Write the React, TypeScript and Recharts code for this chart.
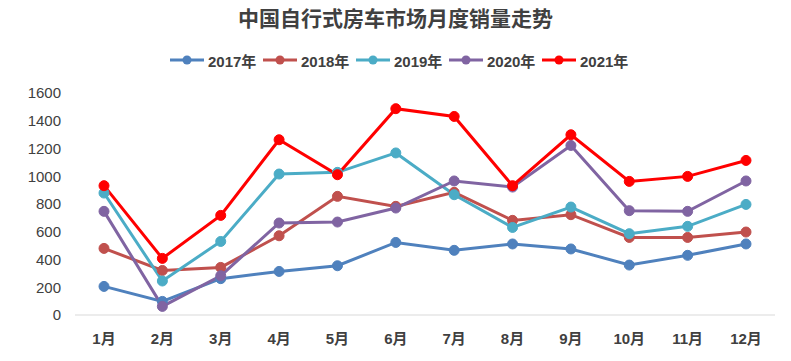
import React from "react";
import { LineChart, Line, XAxis, YAxis } from "recharts";

const months = ["1月", "2月", "3月", "4月", "5月", "6月", "7月", "8月", "9月", "10月", "11月", "12月"];

const sales2017 = [206, 98, 262, 314, 355, 523, 466, 512, 476, 360, 430, 512];
const sales2018 = [480, 321, 343, 571, 855, 783, 884, 682, 723, 559, 559, 598];
const sales2019 = [879, 245, 530, 1016, 1028, 1168, 867, 631, 778, 586, 639, 797];
const sales2020 = [747, 62, 283, 663, 670, 771, 966, 922, 1222, 752, 747, 966];
const sales2021 = [932, 408, 718, 1263, 1011, 1487, 1431, 932, 1299, 963, 999, 1114];

const yTicks = [0, 200, 400, 600, 800, 1000, 1200, 1400, 1600];

const SERIES = [
  { key: "y2017", name: "2017年", color: "#4F81BD", values: sales2017 },
  { key: "y2018", name: "2018年", color: "#C0504D", values: sales2018 },
  { key: "y2019", name: "2019年", color: "#4BACC6", values: sales2019 },
  { key: "y2020", name: "2020年", color: "#8064A2", values: sales2020 },
  { key: "y2021", name: "2021年", color: "#FF0000", values: sales2021 },
];

const data = months.map((m, i) => {
  const row: Record<string, string | number> = { month: m };
  SERIES.forEach((s) => {
    row[s.key] = s.values[i];
  });
  return row;
});

const FONT = "'Liberation Sans', Arial, 'Noto Sans CJK SC', sans-serif";

// legend drawn by hand: line + filled dot, like the Excel legend
const LegendRow = () => (
  <div style={{ position: "absolute", top: 50, left: 0, width: 791, display: "flex", justifyContent: "center", paddingLeft: 12, boxSizing: "border-box" }}>
    {SERIES.map((s) => (
      <div key={s.key} style={{ display: "flex", alignItems: "center", width: 93, height: 20 }}>
        <svg width={36} height={12} style={{ marginRight: 3 }}>
          <line x1={1} y1={6} x2={35} y2={6} stroke={s.color} strokeWidth={3} />
          <circle cx={18} cy={6} r={4.5} fill={s.color} />
        </svg>
        <span style={{ fontFamily: FONT, fontWeight: "bold", fontSize: 15, color: "#404040" }}>
          {s.name}
        </span>
      </div>
    ))}
  </div>
);

const App: React.FC = () => {
  return (
    <div style={{ position: "absolute", left: 0, top: 0, width: 791, height: 361, background: "#fff" }}>
      <div
        style={{
          position: "absolute",
          top: 6,
          width: 791,
          textAlign: "center",
          fontFamily: FONT,
          fontWeight: "bold",
          fontSize: 21,
          color: "#404040",
          lineHeight: "26px",
        }}
      >
        中国自行式房车市场月度销量走势
      </div>
      <LegendRow />
      <LineChart
        width={791}
        height={361}
        data={data}
        margin={{ top: 93, right: 16, bottom: 16, left: 0 }}
        style={{ fontFamily: FONT, position: "absolute", top: 0, left: 0 }}
      >
        <XAxis
          dataKey="month"
          height={30}
          padding={{ left: 29, right: 29 }}
          axisLine={{ stroke: "#D9D9D9" }}
          tickLine={false}
          tick={{ fill: "#404040", fontSize: 15, fontWeight: "bold" }}
          tickMargin={12}
          interval={0}
        />
        <YAxis
          domain={[0, 1600]}
          ticks={yTicks}
          interval={0}
          width={75}
          axisLine={false}
          tickLine={false}
          tick={{ fill: "#404040", fontSize: 15 }}
          tickMargin={8}
        />
        {SERIES.map((s) => (
          <Line
            key={s.key}
            dataKey={s.key}
            name={s.name}
            stroke={s.color}
            strokeWidth={3}
            dot={{ r: 5, fill: s.color, stroke: s.color, strokeWidth: 1 }}
            isAnimationActive={false}
          />
        ))}
      </LineChart>
    </div>
  );
};

export default App;
